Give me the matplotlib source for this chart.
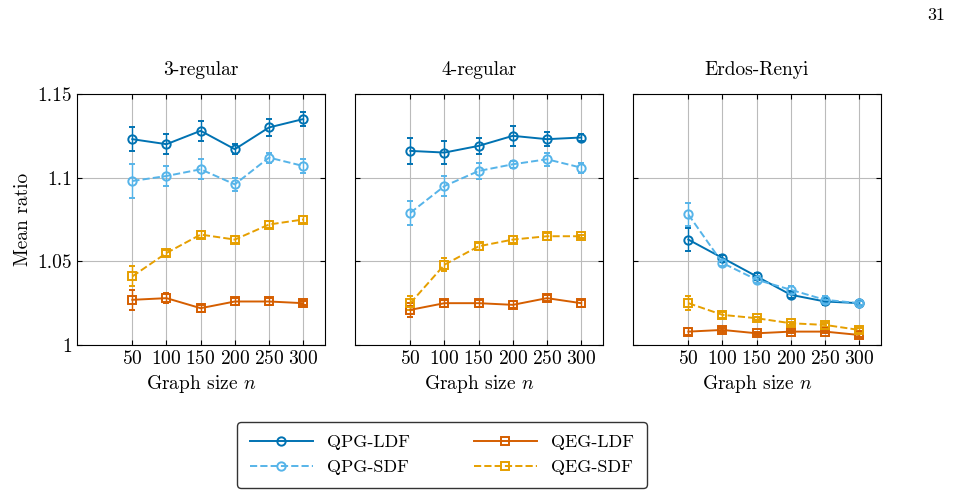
import matplotlib.pyplot as plt
from matplotlib.lines import Line2D

plt.rcParams['font.family'] = 'serif'
plt.rcParams['font.serif'] = ['cmr10', 'DejaVu Serif']
plt.rcParams['mathtext.fontset'] = 'cm'
plt.rcParams['axes.formatter.use_mathtext'] = True

sizes = [50, 100, 150, 200, 250, 300]
titles = ['3-regular', '4-regular', 'Erdos-Renyi']

qpg_ldf = [[1.123, 1.120, 1.128, 1.117, 1.130, 1.135],
           [1.116, 1.115, 1.119, 1.125, 1.123, 1.124],
           [1.063, 1.052, 1.041, 1.030, 1.026, 1.025]]
qpg_ldf_err = [[.007, .006, .006, .003, .005, .004],
               [.008, .007, .005, .006, .004, .002],
               [.007, .002, .002, .002, .002, .001]]
qpg_sdf = [[1.098, 1.101, 1.105, 1.096, 1.112, 1.107],
           [1.079, 1.095, 1.104, 1.108, 1.111, 1.106],
           [1.078, 1.049, 1.039, 1.033, 1.027, 1.025]]
qpg_sdf_err = [[.010, .006, .006, .004, .003, .004],
               [.007, .006, .005, .002, .004, .003],
               [.007, .002, .002, .002, .002, .001]]
qeg_ldf = [[1.027, 1.028, 1.022, 1.026, 1.026, 1.025],
           [1.021, 1.025, 1.025, 1.024, 1.028, 1.025],
           [1.008, 1.009, 1.007, 1.008, 1.008, 1.006]]
qeg_ldf_err = [[.006, .003, .002, .002, .002, .001],
               [.004, .002, .002, .002, .002, .002],
               [.002, .001, .001, .001, .001, .001]]
qeg_sdf = [[1.041, 1.055, 1.066, 1.063, 1.072, 1.075],
           [1.025, 1.048, 1.059, 1.063, 1.065, 1.065],
           [1.025, 1.018, 1.016, 1.013, 1.012, 1.009]]
qeg_sdf_err = [[.006, .002, .002, .002, .002, .002],
               [.004, .004, .002, .002, .002, .001],
               [.004, .002, .001, .001, .001, .001]]

series = [
    ('QPG-LDF', qpg_ldf, qpg_ldf_err, '#0072B2', 'o', '-'),
    ('QPG-SDF', qpg_sdf, qpg_sdf_err, '#56B4E9', 'o', '--'),
    ('QEG-LDF', qeg_ldf, qeg_ldf_err, '#D55E00', 's', '-'),
    ('QEG-SDF', qeg_sdf, qeg_sdf_err, '#E69F00', 's', '--'),
]

fig = plt.figure(figsize=(9.58, 4.97), dpi=100)
lefts = [77, 355, 633]
for i, l in enumerate(lefts):
    ax = fig.add_axes([l / 958, 1 - 345 / 497, 248 / 958, 251 / 497])
    for name, vals, errs, c, m, ls in series:
        ax.errorbar(sizes, vals[i], yerr=errs[i], color=c, marker=m, ls=ls,
                    lw=1.4, ms=6, mfc='none', mew=1.4, capsize=2, elinewidth=1)
    ax.set_xlim(-31, 332)
    ax.set_ylim(1, 1.15)
    ax.set_xticks(sizes)
    ax.set_yticks([1, 1.05, 1.1, 1.15])
    ax.grid(True, color='#bbbbbb', lw=0.8)
    ax.set_axisbelow(True)
    ax.tick_params(direction='in', top=True, right=True, labelsize=14)
    if i == 0:
        ax.set_yticklabels(['1', '1.05', '1.1', '1.15'])
        ax.set_ylabel('Mean ratio', fontsize=14)
    else:
        ax.set_yticklabels([])
    ax.set_title(titles[i], fontsize=14, pad=14)
    ax.set_xlabel('Graph size $n$', fontsize=14)

handles = [Line2D([], [], color=c, marker=m, ls=ls, lw=1.4, ms=6, mfc='none', mew=1.4)
           for _, _, _, c, m, ls in series]
labels = [s[0] for s in series]
leg = fig.legend(handles, labels, ncol=2, loc='center', bbox_to_anchor=(442 / 958, 1 - 455 / 497),
                 fontsize=13, frameon=True, edgecolor='black', fancybox=True,
                 columnspacing=3.5, handlelength=3.5, borderpad=0.7)
leg.get_frame().set_linewidth(1.0)
fig.text(945 / 958, 1 - 15 / 497, '31', fontsize=13, ha='right', va='center')
fig.savefig('out.png', dpi=100)
